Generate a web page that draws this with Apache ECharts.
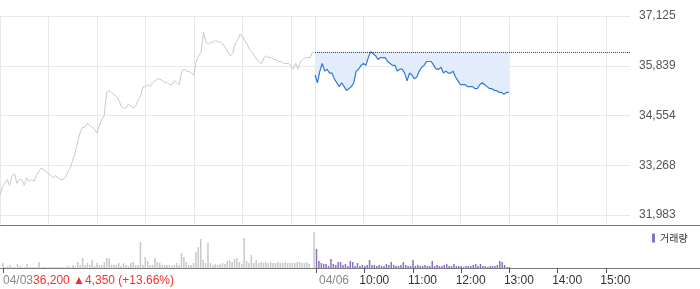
<!DOCTYPE html>
<html><head><meta charset="utf-8">
<script src="https://cdn.jsdelivr.net/npm/echarts@6/dist/echarts.min.js"></script>
<style>html,body{margin:0;padding:0;background:#fff}#c{width:700px;height:289px}</style>
</head><body><div id="c"></div>
<script>
// ---- data ----
const dayLabels = ['04/03', '04/06'];
const prevClose = 36200;
const closeSummary = '36,200 \u25B24,350 (+13.66%)';
const yTicks = [31983, 33268, 34554, 35839, 37125];
const volumeName = '거래량';

// 04/03, 3-minute slots from 09:00
const priceDay1 = [
 32500,32700,32800,32900,32750,33000,33050,32800,32900,32900,
 32750,32950,32850,32900,32850,33000,33100,33200,33150,33100,
 33050,33000,32950,33000,32950,32900,32900,32950,33100,33200,
 33400,33600,33850,34100,34250,34250,34350,34300,34250,34200,
 34100,34300,34450,34550,35150,35200,35150,35100,35050,34950,
 34800,34750,34750,34850,34800,34750,34800,34950,35050,35300,
 35300,35350,35300,35400,35450,35500,35500,35450,35400,35400,
 35350,35350,35450,35400,35350,35700,35750,35700,35700,35650,
 35600,35950,36100,36200,36700,36450,36400,36450,36450,36500,
 36450,36450,36400,36300,36200,36100,36150,36400,36500,36650,
 36600,36500,36400,36250,36200,36100,36000,35950,35900,36050,
 36100,36050,36050,36000,36000,35950,35950,35900,35900,35900,
 35850,35750,35900,35750,35950,36000,36050,36050,36050,36200
];
// 04/06, 3-minute slots from 09:00
const priceDay2 = [
 35600,35400,35700,35900,35700,35750,35650,35650,35500,35400,
 35300,35400,35300,35200,35250,35300,35400,35700,35750,35850,
 35900,35850,36050,36200,36150,36100,36000,36050,36050,36050,
 35950,35900,35850,35850,35700,35750,35750,35650,35450,35650,
 35600,35500,35550,35700,35800,35850,35950,35950,35950,35850,
 35750,35750,35800,35650,35700,35650,35650,35700,35550,35450,
 35350,35350,35350,35300,35300,35300,35250,35250,35350,35400,
 35350,35300,35250,35250,35200,35200,35150,35150,35100,35150,
 35150
];
// volume (thousand shares)
const volDay1 = [
 5,1,2,3,1,1,4,2,1,1,
 4,1,1,1,1,6,1,1,1,1,
 1,1,1,1,1,1,1,2,1,3,
 2,6,3,10,3,5,3,8,2,5,
 3,3,6,10,10,3,3,3,5,2,
 5,3,2,5,6,3,3,26,3,11,
 7,3,3,10,6,5,3,3,3,3,
 2,3,5,3,15,11,6,3,3,5,
 16,21,29,8,5,25,5,3,4,3,
 4,5,4,7,8,6,9,10,6,4,
 30,7,5,13,5,8,5,6,5,6,
 5,6,5,5,6,5,5,6,5,5,
 5,5,6,6,5,5,6,4,0,36
];
const volDay2 = [
 19,7,5,4,4,2,9,4,3,6,
 6,3,4,2,7,6,2,5,2,3,
 2,3,8,3,3,2,3,2,2,4,
 3,6,3,2,2,3,6,3,2,2,
 8,2,3,2,2,3,2,2,7,2,
 3,2,2,3,4,2,2,4,2,2,
 2,1,2,2,2,3,4,2,4,2,
 2,1,2,2,2,3,7,6,3,1,
 1
];

// ---- categories (time slots) ----
function hm(m){const h=9+Math.floor(m/60),mm=m%60;return (h<10?'0':'')+h+':'+(mm<10?'0':'')+mm;}
const categories = [];
for (let i=0;i<130;i++) categories.push(dayLabels[0]+' '+hm(3*i));
for (let i=0;i<=130;i++) categories.push(dayLabels[1]+' '+hm(3*i));
const D2 = 130;

const isGrid = i => (i < D2 && i % 20 === 0) || (i >= D2 && i <= D2+120 && (i-D2) % 20 === 0);
const isLabel = i => i === 0 || (i >= D2 && i <= D2+120 && (i-D2) % 20 === 0);

const FONT = '"Liberation Sans", Arial, "Noto Sans CJK KR", sans-serif';
const pad = n => Array(n).fill(null);

const chart = echarts.init(document.getElementById('c'));
chart.setOption({
  animation: false,
  textStyle: {fontFamily: FONT},
  grid: [
    {left: 0, top: 16, width: 630, height: 209},
    {left: 0, top: 226, width: 630, height: 42}
  ],
  legend: {
    data: [volumeName], left: 652, top: 233, padding: 0, icon: 'rect', itemWidth: 3, itemHeight: 9,
    textStyle: {fontSize: 10, color: '#333', fontFamily: '"Noto Sans CJK KR", sans-serif'}, selectedMode: false
  },
  xAxis: [
    {type: 'category', gridIndex: 0, data: categories, boundaryGap: false,
     axisLine: {show: false}, axisTick: {show: false}, axisLabel: {show: false},
     splitLine: {show: true, interval: i => isGrid(i), lineStyle: {color: '#e8e8e8', width: 1}}},
    {type: 'category', gridIndex: 1, boundaryGap: false,
     data: categories.map((c,i) => i === 0 ? {value: c, textStyle: {align: 'left'}} : c),
     axisLine: {show: false},
     axisTick: {show: true, interval: i => isLabel(i), length: 5, lineStyle: {color: '#555'}},
     axisLabel: {show: true, interval: i => isLabel(i), margin: 7, fontSize: 12,
       formatter: (v, i) => {
         if (i === 0) return '{d|' + dayLabels[0] + '}{r|' + closeSummary + '}';
         if (i === D2) return '{e|' + dayLabels[1] + '}';
         return '{t|' + v.slice(6) + '}';
       },
       rich: {
         d: {color: '#888', fontSize: 12, fontFamily: FONT},
         e: {color: '#888', fontSize: 12, fontFamily: FONT, padding: [0,0,0,35]},
         t: {color: '#333', fontSize: 12, fontFamily: FONT, padding: [0,0,0,19]},
         r: {color: '#f0302f', fontSize: 12, fontFamily: FONT}
       }},
     splitLine: {show: false}}
  ],
  yAxis: [
    {type: 'value', gridIndex: 0, position: 'right', min: 31725, max: 37125,
     axisLine: {show: false},
     axisTick: {show: false, customValues: yTicks},
     axisLabel: {customValues: yTicks, margin: 9, color: '#555', fontSize: 12,
       formatter: v => Math.round(v).toLocaleString('en-US')},
     splitLine: {show: true, lineStyle: {color: '#e8e8e8', width: 1}}},
    {type: 'value', gridIndex: 1, min: 0, max: 42, show: false, splitLine: {show: false}}
  ],
  series: [
    {type: 'line', name: 'prev', xAxisIndex: 0, yAxisIndex: 0, data: priceDay1,
     symbol: 'none', lineStyle: {color: '#c8c9cd', width: 1}, silent: true},
    {type: 'line', name: 'today', xAxisIndex: 0, yAxisIndex: 0, data: pad(D2).concat(priceDay2),
     symbol: 'none', lineStyle: {color: '#2f78dc', width: 1.2},
     areaStyle: {color: '#e3ecfa', opacity: 1, origin: prevClose}, silent: true,
     markLine: {symbol: ['none','none'], silent: true, label: {show: false},
       lineStyle: {color: '#444', type: 'dotted', width: 1},
       data: [[{coord: [categories[D2], prevClose]}, {coord: [categories[categories.length-1], prevClose]}]]}},
    {type: 'bar', name: 'prevVol', xAxisIndex: 1, yAxisIndex: 1, data: volDay1, stack: 'v',
     barWidth: 1.5, itemStyle: {color: '#c6c8cc'}, silent: true},
    {type: 'bar', name: volumeName, xAxisIndex: 1, yAxisIndex: 1, data: pad(D2).concat(volDay2), stack: 'v',
     barWidth: 1.2, itemStyle: {color: '#8b6fc6'}, silent: true}
  ],
  graphic: [
    {type: 'line', shape: {x1: 0, y1: 225.5, x2: 700, y2: 225.5}, style: {stroke: '#7a7a7a', lineWidth: 1}, silent: true},
    {type: 'line', shape: {x1: 0, y1: 268.5, x2: 700, y2: 268.5}, style: {stroke: '#7a7a7a', lineWidth: 1}, silent: true}
  ]
});
</script>
</body></html>
